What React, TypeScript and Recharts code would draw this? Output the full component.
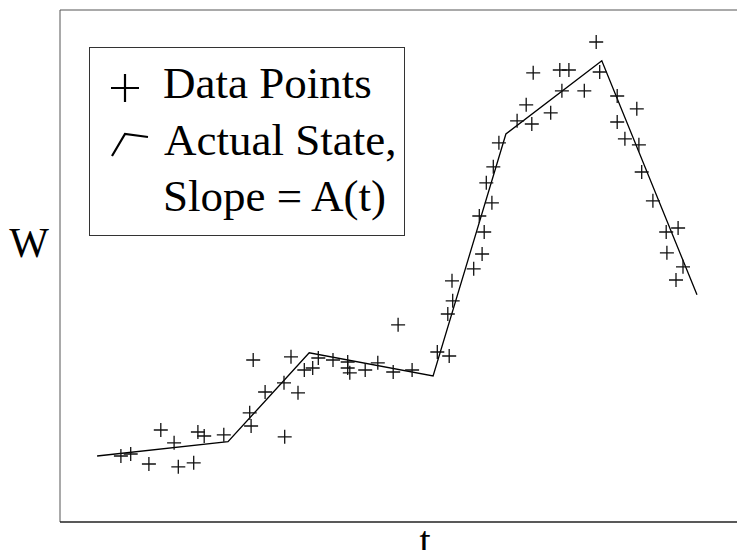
import {
  ComposedChart,
  Line,
  Scatter,
  XAxis,
  YAxis,
  ReferenceLine,
  Legend,
} from 'recharts';

// actual state (piecewise linear), t vs W
const stateT = [5.3, 24.0, 35.6, 53.3, 63.7, 77.4, 91.0];
const stateW = [16.5, 20.1, 42.3, 36.5, 97.0, 115.3, 56.8];

// noisy observations
const pointT = [
  8.7, 10.1, 12.7, 16.9, 19.1, 16.3, 14.4, 19.7, 20.6, 23.4,
  27.1, 27.3, 27.6, 29.3, 32.0, 32.1, 33.0, 34.0, 34.9, 36.1,
  36.9, 39.0, 41.1, 41.1, 41.4, 43.6, 45.4, 47.6, 50.3, 48.3,
  53.9, 55.6, 55.4, 56.1, 56.0, 59.1, 60.3, 60.6, 59.9, 61.7,
  60.9, 61.9, 62.7, 65.3, 67.4, 66.6, 70.1, 67.6, 71.4, 72.7,
  71.7, 74.9, 76.6, 77.1, 79.6, 82.4, 79.6, 80.7, 82.7, 83.1,
  84.7, 86.6, 88.3, 86.7, 89.0, 88.0,
];
const pointW = [
  16.5, 17.0, 14.5, 13.8, 14.8, 19.8, 23.0, 22.5, 21.5, 21.8,
  27.3, 24.0, 40.5, 32.5, 34.8, 21.3, 41.3, 32.3, 38.0, 38.5,
  41.0, 40.5, 40.0, 38.5, 37.3, 38.0, 39.8, 37.5, 38.0, 49.3,
  42.5, 41.5, 52.0, 55.3, 60.3, 63.3, 67.0, 72.5, 76.5, 79.8,
  84.8, 88.8, 94.8, 100.3, 99.5, 104.3, 102.3, 112.3, 113.0, 113.0,
  107.8, 107.8, 120.0, 112.5, 106.5, 103.3, 100.0, 95.8, 94.3, 87.5,
  80.3, 72.5, 73.5, 67.3, 63.8, 60.5,
];

const stateData = stateT.map((t, i) => ({ t, w: stateW[i] }));
const pointData = pointT.map((t, i) => ({ t, w: pointW[i] }));

const serif = { fontFamily: '"Liberation Serif", "DejaVu Serif", serif' };

const PlusMark = (props: any) => {
  const { cx, cy } = props;
  return (
    <path
      d={`M${cx - 7},${cy}h14M${cx},${cy - 7}v14`}
      stroke="#111"
      strokeWidth={1.3}
      fill="none"
    />
  );
};

const LegendBox = () => (
  <svg width={316} height={189} style={{ display: 'block' }}>
    <rect x={0.5} y={0.5} width={315} height={188} fill="#fff" stroke="#333" />
    <path d="M22,41h28M36,27v28" stroke="#000" strokeWidth={2.2} fill="none" />
    <path d="M23,109L36,87L59,90" stroke="#000" strokeWidth={2.2} fill="none" />
    <g style={serif} fontSize={45} fill="#000">
      <text x={74} y={51}>Data Points</text>
      <text x={75} y={108}>Actual State,</text>
      <text x={74} y={164}>Slope = A(t)</text>
    </g>
  </svg>
);

export default function App() {
  return (
    <div
      style={{
        margin: -8,
        width: 745,
        height: 558,
        overflow: 'hidden',
        position: 'relative',
        background: '#fff',
      }}
    >
      <ComposedChart
        width={770}
        height={558}
        margin={{ top: 10, right: 10, left: 60, bottom: 36 }}
      >
        <XAxis type="number" dataKey="t" domain={[0, 100]} hide />
        <YAxis type="number" dataKey="w" domain={[0, 128]} hide />
        {/* frame: top, left, bottom (right side falls outside the picture) */}
        <ReferenceLine y={128} stroke="#555" strokeWidth={1} />
        <ReferenceLine x={0} stroke="#555" strokeWidth={1} />
        <ReferenceLine y={0} stroke="#222" strokeWidth={1.5} />
        <Scatter
          data={pointData}
          dataKey="w"
          shape={PlusMark}
          isAnimationActive={false}
        />
        <Line
          data={stateData}
          dataKey="w"
          type="linear"
          stroke="#000"
          strokeWidth={1.3}
          dot={false}
          isAnimationActive={false}
        />
        <Legend
          layout="vertical"
          align="center"
          verticalAlign="middle"
          content={LegendBox}
          wrapperStyle={{ left: 89, top: 47, width: 316, height: 189 }}
        />
        <text x={29} y={257} textAnchor="middle" style={serif} fontSize={42}>
          W
        </text>
        <text x={425} y={554} textAnchor="middle" style={serif} fontSize={40}>
          t
        </text>
      </ComposedChart>
    </div>
  );
}
